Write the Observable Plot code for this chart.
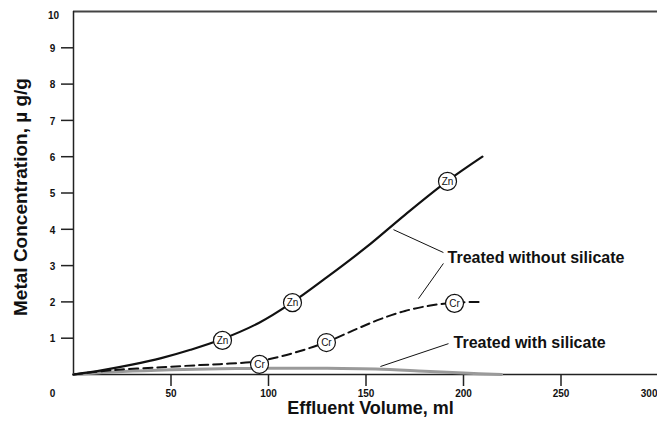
<!DOCTYPE html>
<html>
<head>
<meta charset="utf-8">
<script src="https://cdn.jsdelivr.net/npm/d3@7"></script>
<script src="https://cdn.jsdelivr.net/npm/@observablehq/plot@0.6"></script>
<style>
  html, body { margin: 0; padding: 0; background: #fff; }
  svg { overflow: visible; }
</style>
</head>
<body>
<div id="chart"></div>
<script>
// ---- data ----
const xTicks = [50, 100, 150, 200, 250, 300];
const yTicks = [1, 2, 3, 4, 5, 6, 7, 8, 9];
const yTopTick = [10];
const yTickMarks = [1, 2, 3, 4, 5, 6, 7, 8, 9];

// Zn, treated without silicate (solid)
const znX = [0, 15, 30, 45, 60, 76, 95, 112, 130, 150, 170, 191, 209.7];
const znY = [0, 0.12, 0.27, 0.45, 0.68, 0.97, 1.42, 1.98, 2.68, 3.5, 4.4, 5.3, 6.0];

// Cr, treated without silicate (dashed)
const crX = [0, 20, 45, 65, 80, 95, 112, 129, 145, 157, 170, 183, 196, 209.7];
const crY = [0, 0.12, 0.2, 0.26, 0.3, 0.37, 0.58, 0.88, 1.25, 1.52, 1.75, 1.9, 1.98, 2.0];

// Treated with silicate (grey)
const siX = [0, 25, 50, 75, 100, 130, 155, 180, 200, 219.5];
const siY = [0, 0.08, 0.13, 0.16, 0.17, 0.17, 0.15, 0.09, 0.04, 0];

// circled markers
const markerLabels = ["Zn", "Zn", "Zn", "Cr", "Cr", "Cr"];
const markerX = [76.4, 112.3, 191.8, 95.4, 129.7, 195.4];
const markerY = [0.94, 1.98, 5.32, 0.28, 0.88, 1.96];

// annotations
const noteTexts = ["Treated without silicate", "Treated with silicate"];
const noteX = [191.8, 194.9];
const noteY = [3.2, 0.88];
// leader lines
const leadX1 = [164.1, 189.7, 192.3];
const leadY1 = [3.99, 3.06, 0.85];
const leadX2 = [189.7, 176.9, 157.4];
const leadY2 = [3.36, 2.09, 0.22];

const pts = (xs, ys) => xs.map((x, i) => ({x, y: ys[i]}));
const markers = markerLabels.map((t, i) => ({t, x: markerX[i], y: markerY[i]}));
const notes = noteTexts.map((t, i) => ({t, x: noteX[i], y: noteY[i]}));
const leads = leadX1.map((x1, i) => ({x1, y1: leadY1[i], x2: leadX2[i], y2: leadY2[i]}));

const font = "'Liberation Sans', Arial, Helvetica, sans-serif";

const chart = Plot.plot({
  width: 657,
  height: 423,
  marginLeft: 73,
  marginRight: 0,
  marginTop: 11,
  marginBottom: 49,
  style: {fontFamily: font, background: "#fff", overflow: "visible"},
  x: {domain: [0, 300], range: [73, 658]},
  y: {domain: [0, 10], range: [374, 11]},
  marks: [
    // frame lines
    Plot.ruleY([10], {x1: 0, x2: 300, stroke: "#444", strokeWidth: 2}),
    Plot.ruleX([0], {y1: 0, y2: 10, stroke: "#222", strokeWidth: 1.5}),
    Plot.ruleY([0], {x1: 0, x2: 300, stroke: "#222", strokeWidth: 1.5}),
    Plot.axisY(yTickMarks, {tickSize: 12, tickFormat: () => "", label: null, stroke: "#222", strokeWidth: 1.5}),
    Plot.axisX(xTicks, {tickSize: 12, tickFormat: () => "", label: null, stroke: "#222", strokeWidth: 1.5}),
    // tick labels
    Plot.text(yTicks, {y: d => d, text: d => String(d), frameAnchor: "left", dx: -21, dy: 1, textAnchor: "middle", fontSize: 10, fontWeight: "bold", fill: "#111"}),
    Plot.text(yTopTick, {y: d => d, text: d => String(d), frameAnchor: "left", dx: -20, dy: 4, textAnchor: "middle", fontSize: 10, fontWeight: "bold", fill: "#111"}),
    Plot.text(["0"], {text: d => d, frameAnchor: "bottom-left", dx: -21, dy: 22, textAnchor: "middle", fontSize: 10, fontWeight: "bold", fill: "#111"}),
    Plot.text(xTicks.filter(d => d < 300), {x: d => d, text: d => String(d), frameAnchor: "bottom", dy: 22, textAnchor: "middle", fontSize: 10, fontWeight: "bold", fill: "#111"}),
    Plot.text([300], {x: d => d, text: d => String(d), frameAnchor: "bottom", dy: 22, dx: -1, textAnchor: "end", fontSize: 10, fontWeight: "bold", fill: "#111"}),
    // axis titles
    Plot.text(["Effluent Volume, ml"], {text: d => d, frameAnchor: "bottom", dy: 39, dx: 5, textAnchor: "middle", fontSize: 18, fontWeight: "bold", fill: "#111"}),
    Plot.text(["Metal Concentration, \u00b5 g/g"], {text: d => d, frameAnchor: "left", dx: -53, dy: 4, rotate: -90, textAnchor: "middle", fontSize: 19, fontWeight: "bold", fill: "#111"}),
    // series
    Plot.line(pts(siX, siY), {x: "x", y: "y", curve: "catmull-rom", stroke: "#9a9a9a", strokeWidth: 3}),
    Plot.line(pts(crX, crY), {x: "x", y: "y", curve: "catmull-rom", stroke: "#111", strokeWidth: 2, strokeDasharray: "9,5"}),
    Plot.line(pts(znX, znY), {x: "x", y: "y", curve: "catmull-rom", stroke: "#111", strokeWidth: 2.2}),
    // leader lines
    Plot.link(leads, {x1: "x1", y1: "y1", x2: "x2", y2: "y2", stroke: "#111", strokeWidth: 1}),
    // markers
    Plot.dot(markers, {x: "x", y: "y", r: 9, fill: "white", stroke: "#111", strokeWidth: 1.2}),
    Plot.text(markers, {x: "x", y: "y", text: "t", fontSize: 10, fill: "#111"}),
    // annotation texts
    Plot.text(notes, {x: "x", y: "y", text: "t", textAnchor: "start", fontSize: 16, fontWeight: "bold", fill: "#111"})
  ]
});
document.getElementById("chart").appendChild(chart);
</script>
</body>
</html>
